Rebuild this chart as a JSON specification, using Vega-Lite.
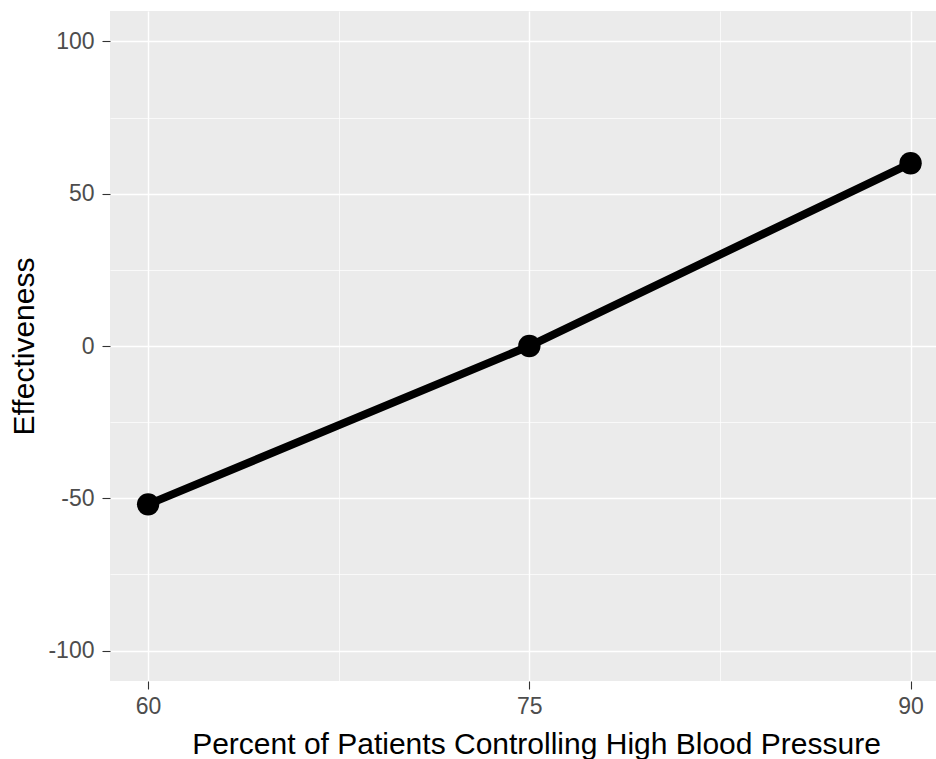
{
  "$schema": "https://vega.github.io/schema/vega-lite/v6.json",
  "autosize": {"type": "none"},
  "padding": {"left": 110, "top": 11, "right": 0, "bottom": 78},
  "width": 826,
  "height": 670,
  "background": "white",
  "config": {
    "view": {"fill": "#EBEBEB", "stroke": null},
    "font": "Liberation Sans",
    "axis": {
      "labelFont": "Liberation Sans",
      "titleFont": "Liberation Sans",
      "labelColor": "#4D4D4D",
      "labelFontSize": 23,
      "titleFontSize": 30,
      "titleFontWeight": "normal",
      "titleColor": "black",
      "tickColor": "#333333",
      "tickSize": 8,
      "tickWidth": 1.1,
      "domain": false,
      "gridColor": "white"
    }
  },
  "data": {
    "values": [
      {"percent": 60, "effectiveness": -52},
      {"percent": 75, "effectiveness": 0},
      {"percent": 90, "effectiveness": 60}
    ]
  },
  "encoding": {
    "x": {
      "field": "percent",
      "type": "quantitative",
      "scale": {"domain": [58.5, 91], "nice": false, "zero": false},
      "axis": {
        "title": "Percent of Patients Controlling High Blood Pressure",
        "values": [60, 67.5, 75, 82.5, 90],
        "labelExpr": "datum.value % 15 === 0 ? '' + datum.value : ''",
        "labelPadding": 6,
        "labelFlush": false,
        "labelOverlap": false,
        "titlePadding": 11,
        "titleX": 426,
        "titleAnchor": "middle",
        "gridWidth": {"condition": {"test": "datum.value % 15 === 0", "value": 1.4}, "value": 0.7},
        "tickOpacity": {"condition": {"test": "datum.value % 15 === 0", "value": 1}, "value": 0}
      }
    },
    "y": {
      "field": "effectiveness",
      "type": "quantitative",
      "scale": {"domain": [-110, 110], "nice": false},
      "axis": {
        "title": "Effectiveness",
        "values": [-100, -75, -50, -25, 0, 25, 50, 75, 100],
        "labelExpr": "datum.value % 50 === 0 ? '' + datum.value : ''",
        "labelPadding": 8,
        "labelFlush": false,
        "labelOverlap": false,
        "titlePadding": 8,
        "gridWidth": {"condition": {"test": "datum.value % 50 === 0", "value": 1.4}, "value": 0.7},
        "tickOpacity": {"condition": {"test": "datum.value % 50 === 0", "value": 1}, "value": 0}
      }
    }
  },
  "layer": [
    {"mark": {"type": "line", "color": "black", "strokeWidth": 8}},
    {"mark": {"type": "point", "filled": true, "color": "black", "opacity": 1, "size": 500}}
  ]
}
